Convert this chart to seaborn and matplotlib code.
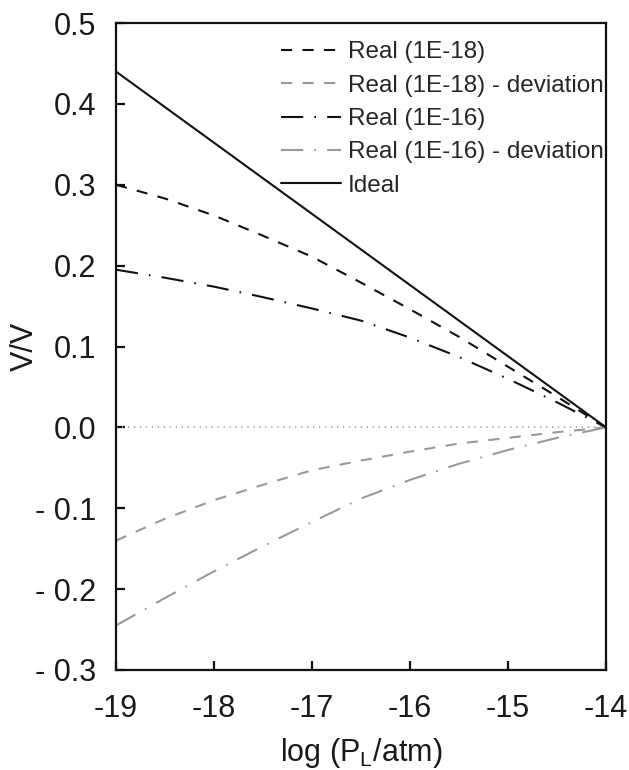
import matplotlib
matplotlib.use("Agg")
import matplotlib.pyplot as plt
import seaborn as sns
import numpy as np
import pandas as pd

sns.set_theme(style="white")
plt.rcParams["font.family"] = ["Liberation Sans", "DejaVu Sans"]
plt.rcParams["mathtext.fontset"] = "custom"
plt.rcParams["mathtext.rm"] = "Liberation Sans"
plt.rcParams["mathtext.it"] = "Liberation Sans"
plt.rcParams["lines.scale_dashes"] = False

# log partial pressure grid
log_p = [-19.0, -18.5, -18.0, -17.5, -17.0, -16.5, -16.0, -15.5, -15.0, -14.5, -14.0]

# relative volume change
ideal = [0.440, 0.396, 0.352, 0.308, 0.264, 0.220, 0.176, 0.132, 0.088, 0.044, 0.000]
real_1e18 = [0.300, 0.283, 0.262, 0.237, 0.211, 0.179, 0.146, 0.112, 0.075, 0.038, 0.000]
real_1e16 = [0.195, 0.185, 0.174, 0.161, 0.147, 0.132, 0.111, 0.087, 0.060, 0.031, 0.000]

y_ticks = [-0.3, -0.2, -0.1, 0.0, 0.1, 0.2, 0.3, 0.4, 0.5]
y_tick_labels = ["- 0.3", "- 0.2", "- 0.1", "0.0", "0.1", "0.2", "0.3", "0.4", "0.5"]
x_ticks = [-19, -18, -17, -16, -15, -14]
x_tick_labels = ["-19", "-18", "-17", "-16", "-15", "-14"]

dev_1e18 = list(np.array(real_1e18) - np.array(ideal))
dev_1e16 = list(np.array(real_1e16) - np.array(ideal))

df = pd.DataFrame({"x": log_p, "ideal": ideal, "r18": real_1e18, "r16": real_1e16,
                   "d18": dev_1e18, "d16": dev_1e16})

fig = plt.figure(figsize=(6.29, 7.70), dpi=100)
ax = fig.add_axes([0.1844, 0.1299, 0.9634 - 0.1844, 0.9701 - 0.1299])

black = "#111111"
grey = "#999999"
dash = (0, (8, 7.5))
dashdot = (0, (16, 8, 1.2, 8))

# zero reference line
sns.lineplot(x=[log_p[0], log_p[-1]], y=[0, 0], ax=ax, color="#999999",
             linewidth=1.2, linestyle=(0, (0.9, 3.4)), legend=False)

series = [
    ("r18", "Real (1E-18)", black, dash),
    ("d18", "Real (1E-18) - deviation", grey, dash),
    ("r16", "Real (1E-16)", black, dashdot),
    ("d16", "Real (1E-16) - deviation", grey, dashdot),
    ("ideal", "Ideal", black, "-"),
]
handles = []
for col, label, color, ls in series:
    sns.lineplot(data=df, x="x", y=col, ax=ax, color=color, linewidth=1.5,
                 linestyle=ls, label=label, legend=False, sort=False)
    handles.append(ax.lines[-1])

ax.set_xlim(-19, -14)
ax.set_ylim(-0.3, 0.5)
ax.set_xticks(x_ticks)
ax.set_xticklabels(x_tick_labels)
ax.set_yticks(y_ticks)
ax.set_yticklabels(y_tick_labels)

for side in ["left", "bottom", "top", "right"]:
    ax.spines[side].set_visible(True)
    ax.spines[side].set_color(black)
    ax.spines[side].set_linewidth(1.6)

ax.tick_params(axis="both", which="major", direction="in", length=6.5, width=1.6,
               colors=black, labelsize=22, labelcolor="#1a1a1a")
ax.tick_params(axis="y", pad=14, left=True, right=False)
ax.tick_params(axis="x", pad=17, bottom=True, top=False)

ax.set_ylabel("V/V", fontsize=22, color="#1a1a1a")
ax.set_xlabel(r"log (P$_\mathregular{L}$/atm)", fontsize=22, color="#1a1a1a", labelpad=9)
ax.yaxis.set_label_coords(-0.155, 0.5)

ax.legend(handles=handles, labels=[s[1] for s in series], loc="upper right",
          bbox_to_anchor=(0.996, 0.972), frameon=False, fontsize=17.5,
          handlelength=2.47, handletextpad=0.29, labelspacing=0.47,
          borderpad=0, borderaxespad=0)

fig.savefig("out.png", dpi=100)
